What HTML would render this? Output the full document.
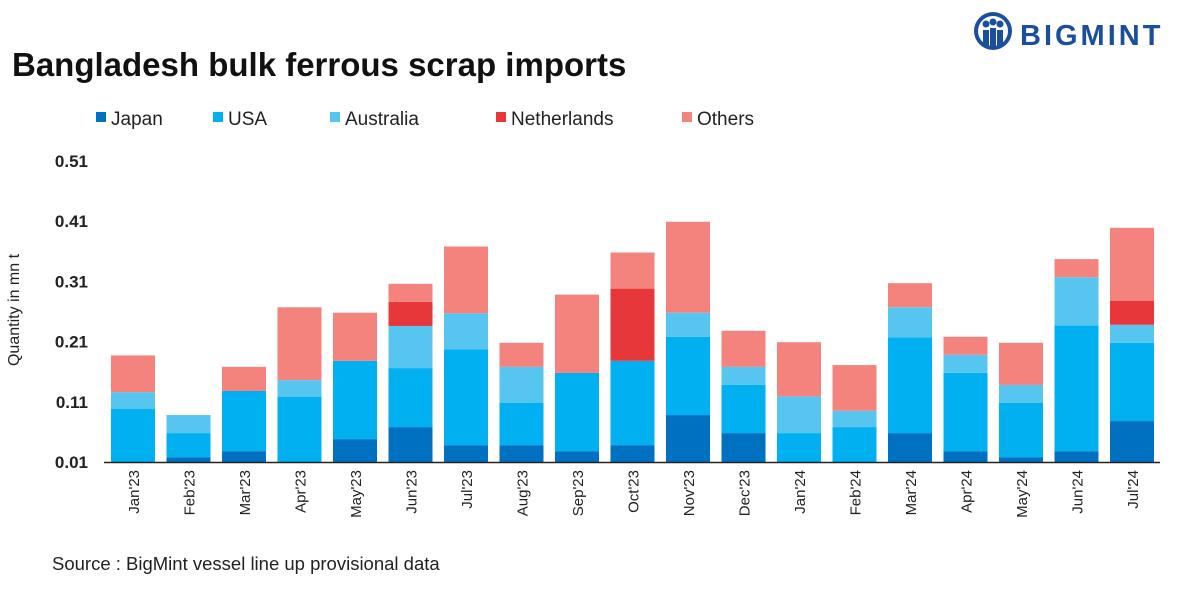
<!DOCTYPE html>
<html><head><meta charset="utf-8"><style>
body{margin:0;background:#fff;font-family:"Liberation Sans",sans-serif;}
svg text{font-family:"Liberation Sans",sans-serif;}
</style></head><body>
<svg width="1201" height="599" viewBox="0 0 1201 599">
<g>
<circle cx="993" cy="31" r="19" fill="#1b4f9c"/>
<circle cx="993" cy="31" r="15" fill="#fff"/>
<circle cx="986" cy="24" r="3.5" fill="#1b4f9c"/><circle cx="1000" cy="24" r="3.5" fill="#1b4f9c"/><circle cx="993" cy="22" r="3.5" fill="#1b4f9c"/>
<rect x="983" y="30" width="6" height="16" fill="#1b4f9c"/><rect x="990" y="28" width="6" height="18" fill="#1b4f9c"/><rect x="997" y="30" width="6" height="16" fill="#1b4f9c"/>
<text x="1020" y="45" font-size="29" font-weight="bold" fill="#1b4f9c" letter-spacing="3">BIGMINT</text>
</g>
<text x="12" y="76" font-size="33" font-weight="bold" fill="#111">Bangladesh bulk ferrous scrap imports</text>
<g id="legend"></g>
<text transform="translate(19,310) rotate(-90)" text-anchor="middle" font-size="16" fill="#222">Quantity in mn t</text>
<g id="yaxis"></g>
<g id="bars"></g>
<line x1="104" y1="462.5" x2="1160" y2="462.5" stroke="#222" stroke-width="1.5"/>
<g id="xaxis"></g>
<text x="52" y="570" font-size="18.5" fill="#222">Source : BigMint vessel line up provisional data</text>
</svg>
<script>
const categories=["Jan'23","Feb'23","Mar'23","Apr'23","May'23","Jun'23","Jul'23","Aug'23","Sep'23","Oct'23","Nov'23","Dec'23","Jan'24","Feb'24","Mar'24","Apr'24","May'24","Jun'24","Jul'24"];
const japan=[0,0.008,0.018,0,0.038,0.058,0.028,0.028,0.018,0.028,0.078,0.048,0,0,0.048,0.018,0.008,0.018,0.068];
const usa=[0.088,0.040,0.100,0.108,0.130,0.098,0.159,0.070,0.130,0.140,0.130,0.080,0.048,0.058,0.159,0.130,0.090,0.209,0.130];
const australia=[0.028,0.030,0,0.028,0,0.070,0.060,0.060,0,0,0.040,0.030,0.061,0.027,0.050,0.030,0.030,0.080,0.030];
const netherlands=[0,0,0,0,0,0.040,0,0,0,0.120,0,0,0,0,0,0,0,0,0.040];
const others=[0.061,0,0.040,0.121,0.080,0.030,0.111,0.040,0.130,0.060,0.151,0.060,0.090,0.076,0.040,0.030,0.070,0.030,0.121];
const yTicks=[0.01,0.11,0.21,0.31,0.41,0.51];
const seriesNames=["Japan","USA","Australia","Netherlands","Others"];
const series=[japan,usa,australia,netherlands,others];
const colors=["#0070c0","#00b0f0","#56c5f0","#e8373a","#f4837d"];
const NS="http://www.w3.org/2000/svg";
const y0=462,yMin=0.01,yMax=0.51,yTop=161;
const y=v=>y0-(v-yMin)/(yMax-yMin)*(y0-yTop);
const x=i=>133+i*55.5;
const bw=44;
function mk(t,a,p){const e=document.createElementNS(NS,t);for(const k in a)e.setAttribute(k,a[k]);p.appendChild(e);return e;}
const ya=document.getElementById('yaxis');
yTicks.forEach(t=>{const e=mk('text',{x:88,y:y(t)+6,'text-anchor':'end','font-size':17,'font-weight':'bold',fill:'#222'},ya);e.textContent=t.toFixed(2);

});
const bg=document.getElementById('bars'),xa=document.getElementById('xaxis');
categories.forEach((c,i)=>{let cum=yMin;
series.forEach((s,k)=>{const v=s[i];if(v<=0)return;const r=mk('rect',{x:x(i)-bw/2,y:y(cum+v),width:bw,height:y(cum)-y(cum+v),fill:colors[k]},bg);

cum+=v;});
const t=mk('text',{transform:`translate(${x(i)+6},470) rotate(-90)`,'text-anchor':'end','font-size':15,fill:'#222'},xa);t.textContent=c;

});
const lg=document.getElementById('legend');
const lx=[96,213,330,496,682];
seriesNames.forEach((n,k)=>{const r=mk('rect',{x:lx[k],y:112,width:10,height:10,fill:colors[k]},lg);


const t=mk('text',{x:lx[k]+15,y:125,'font-size':19,fill:'#222'},lg);t.textContent=n;

});
</script>
</body></html>
